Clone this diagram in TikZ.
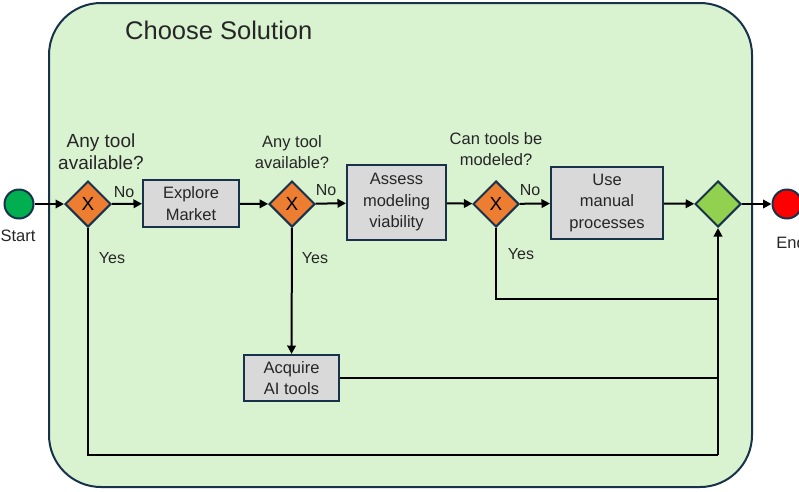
\documentclass[tikz,border=0pt]{standalone}
\usepackage{fontspec}
\setmainfont{Liberation Sans}
\usetikzlibrary{shapes.geometric,arrows.meta}
\definecolor{edge}{HTML}{17324A}
\definecolor{poolfill}{HTML}{D9F2D0}
\definecolor{taskfill}{HTML}{D9D9D9}
\definecolor{xorfill}{HTML}{ED7D31}
\definecolor{joinfill}{HTML}{92D050}
\definecolor{startfill}{HTML}{00B050}
\definecolor{endfill}{HTML}{FF0000}
\definecolor{ink}{HTML}{262626}

\begin{document}
\begin{tikzpicture}[x=1pt,y=-1pt,
  task/.style={draw=edge,fill=taskfill,line width=2pt,align=center,
    font=\fontsize{16.5}{21.5}\selectfont,text=ink,inner sep=0pt},
  xorgate/.style={diamond,draw=edge,fill=xorfill,line width=2pt,
    minimum width=46pt,minimum height=46pt,inner sep=0pt,
    font=\fontsize{19}{19}\selectfont},
  joingate/.style={xorgate,fill=joinfill},
  event/.style={circle,draw=edge,line width=2pt,minimum size=29pt,inner sep=0pt},
  lbl/.style={font=\fontsize{16}{20}\selectfont,text=ink,align=center,inner sep=0pt},
  qlbl/.style={font=\fontsize{16.5}{21}\selectfont,text=ink,align=center,inner sep=0pt},
  flow/.style={line width=2pt,-{Triangle[length=8.5pt,width=8.5pt]}},
  line/.style={line width=2pt}
]
\useasboundingbox (0,0) rectangle (799,491);

% pool
\draw[draw=edge,fill=poolfill,line width=2pt,rounded corners=52pt]
  (49,3) rectangle (752,487);
\node[anchor=west,inner sep=0pt,font=\fontsize{25.5}{25.5}\selectfont,text=ink] (title) at (125,30) {Choose Solution};

% events
\node[event,fill=startfill] (start) at (19,204) {};
\node[lbl,font=\fontsize{16.5}{16.5}\selectfont] (startlbl) at (18,236) {Start};
\node[event,fill=endfill] (end) at (787,204) {};
\node[lbl,font=\fontsize{16.5}{16.5}\selectfont] (endlbl) at (791,243) {End};

% gateways
\node[xorgate] (g1) at (88,204) {X};
\node[xorgate] (g2) at (292,204) {X};
\node[xorgate] (g3) at (496,204) {X};
\node[joingate] (join) at (718,204) {};

% tasks
\node[task,minimum width=96pt,minimum height=47pt] (explore) at (191,203.5) {Explore\\Market};
\node[task,minimum width=99pt,minimum height=75pt] (assess) at (396.5,202.5) {Assess\\modeling\\viability};
\node[task,minimum width=112pt,minimum height=72pt] (manual) at (607,203) {Use\\manual\\processes};
\node[task,minimum width=95pt,minimum height=46pt] (acquire) at (291.5,378) {Acquire\\AI tools};

% gateway questions
\node[qlbl,font=\fontsize{19}{22}\selectfont] (q1) at (101,152) {Any tool\\available?};
\node[qlbl] (q2) at (292,152) {Any tool\\available?};
\node[qlbl] (q3) at (496,149.5) {Can tools be\\modeled?};

% branch labels
\node[lbl] (no1) at (124,192) {No};
\node[lbl] (no2) at (326,190) {No};
\node[lbl] (no3) at (530,190) {No};
\node[lbl] (yes1) at (112,258) {Yes};
\node[lbl] (yes2) at (315,258) {Yes};
\node[lbl] (yes3) at (521,254) {Yes};

% merge points on the join column
\coordinate (m1) at (718,455);
\coordinate (m2) at (718,378);
\coordinate (m3) at (718,299);

% sequence flows
\draw[flow] (start) -- (g1);
\draw[flow] (g1) -- (explore);
\draw[flow] (explore) -- (g2);
\draw[flow] (g2) -- (assess);
\draw[flow] (assess) -- (g3);
\draw[flow] (g3) -- (manual);
\draw[flow] (manual) -- (join);
\draw[flow] (join) -- (end);
\draw[flow] (g2) -- (acquire);
\draw[line] (g1.south) |- (m1);
\draw[line] (g3.south) |- (m3);
\draw[line] (acquire.east) -- (m2);
\draw[flow] (m1) -- (join.south);
\end{tikzpicture}
\end{document}
